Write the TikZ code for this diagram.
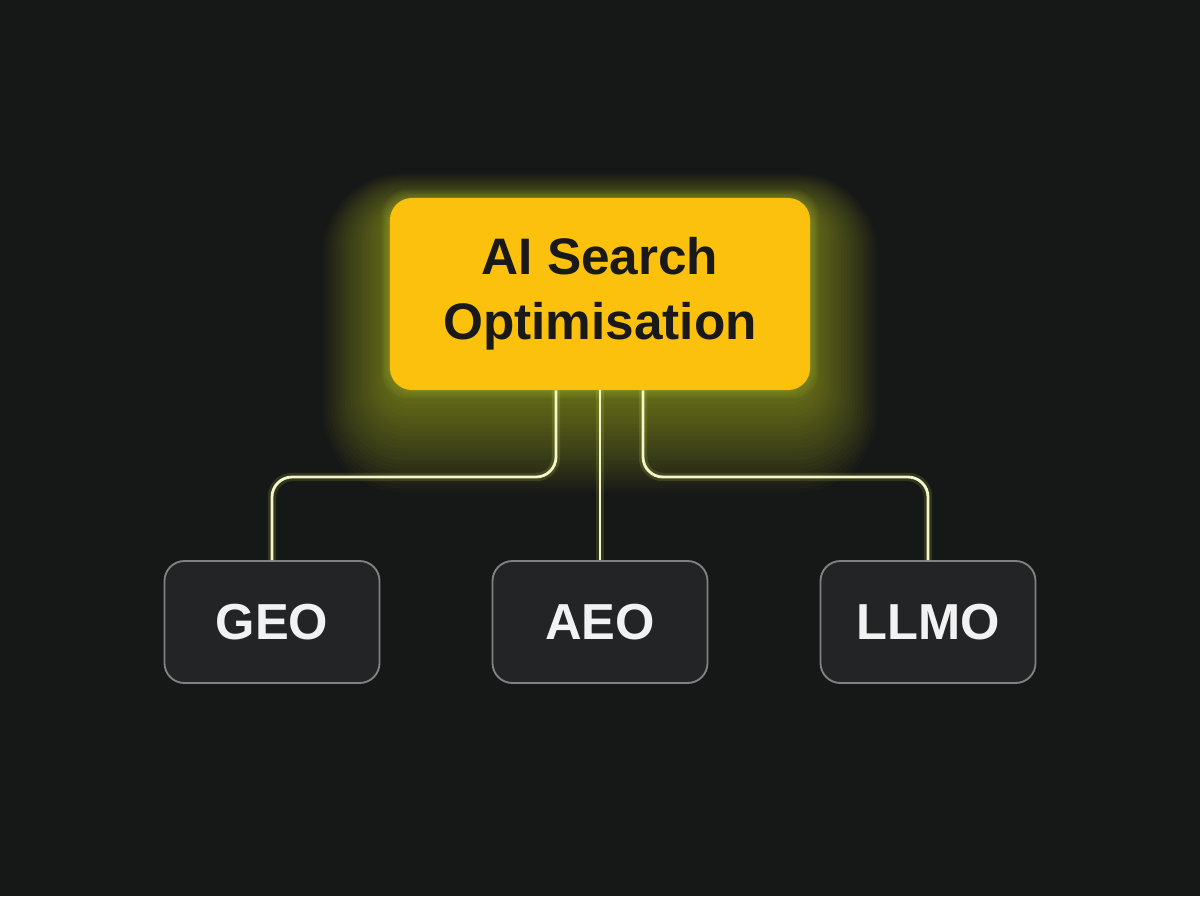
\documentclass[tikz,border=0pt]{standalone}
\usepackage{fontspec}
\setmainfont{Liberation Sans}
\usepackage{tikz}
\usetikzlibrary{calc}
\usetikzlibrary{backgrounds}

\definecolor{bgcol}{HTML}{161717}
\definecolor{aiyellow}{HTML}{FCC10C}
\definecolor{glowcol}{HTML}{D4E43A}
\definecolor{wirecol}{HTML}{F3F6CC}
\definecolor{leafcol}{HTML}{232425}
\definecolor{leafline}{HTML}{828282}

\tikzset{
	topbox/.style={fill=aiyellow, rounded corners=0.55cm, minimum width=10.5cm, minimum height=4.8cm,
		align=center, font=\fontsize{36.5}{46}\selectfont\bfseries, text=black!90},
	leaf/.style={fill=leafcol, draw=leafline, line width=1.3pt, rounded corners=0.5cm,
		minimum width=5.375cm, minimum height=3.05cm, font=\fontsize{36}{40}\selectfont\bfseries, text=white!95!black},
	wire/.style={draw=wirecol, line width=2pt, rounded corners=0.5cm},
	wireglow/.style={draw=glowcol, line width=6pt, opacity=0.15, rounded corners=0.5cm}
}

\begin{document}
\begin{tikzpicture}[x=0.025cm, y=-0.025cm]
	\useasboundingbox (0,0) rectangle (1200,896);

	\node[topbox] (ai) at (600,294) {AI Search\\Optimisation};

	\begin{scope}[every node/.style={leaf}]
		\node (geo) at (272,622) {GEO};
		\node (aeo) at (600,622) {AEO};
		\node (llmo) at (928,622) {LLMO};
	\end{scope}

	\coordinate (bus) at (0,477);

	% background and glow round the top box
	\begin{scope}[on background layer]
		\fill[bgcol] (0,0) rectangle (1200,896);
		\foreach \g [evaluate=\g as \r using 0.55+0.06*\g] in {1,...,24}
			\fill[glowcol, opacity=0.024, rounded corners=\r cm]
				($(ai.south west)+(-2.8*\g,4*\g+6)$) rectangle ($(ai.north east)+(2.8*\g,-1.6*\g+14)$);
		\foreach \g in {1,...,4}
			\fill[glowcol, opacity=0.06, rounded corners=0.65cm]
				($(ai.south west)+(-2*\g,2*\g)$) rectangle ($(ai.north east)+(2*\g,-2*\g)$);
		\path[wireglow] ([xshift=-1.1cm]ai.south) |- (geo.north |- bus) -- (geo.north);
		\path[wireglow] (ai.south) -- (aeo.north);
		\path[wireglow] ([xshift=1.075cm]ai.south) |- (llmo.north |- bus) -- (llmo.north);
	\end{scope}

	% connectors
	\path[wire] ([xshift=-1.1cm]ai.south) |- (geo.north |- bus) -- (geo.north);
	\path[wire] (ai.south) -- (aeo.north);
	\path[wire] ([xshift=1.075cm]ai.south) |- (llmo.north |- bus) -- (llmo.north);
\end{tikzpicture}
\end{document}
